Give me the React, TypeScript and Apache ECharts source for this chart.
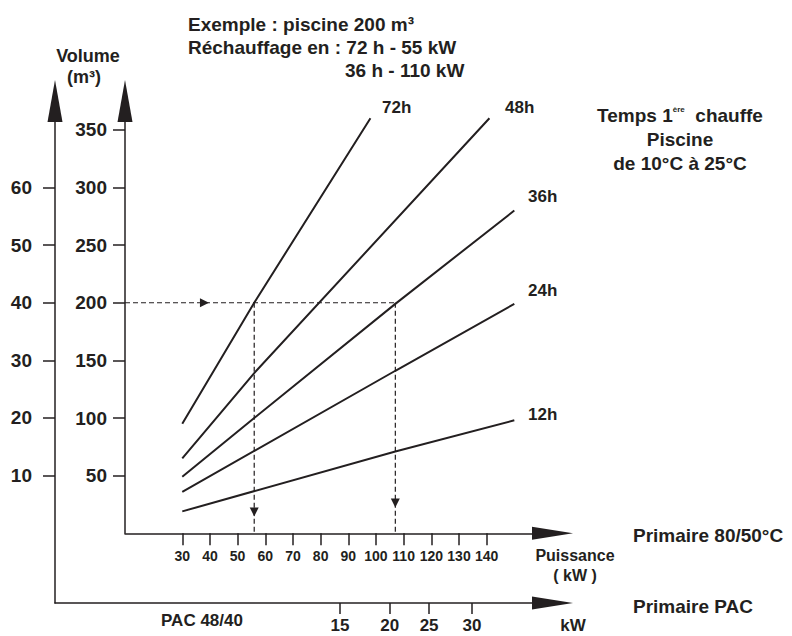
import React, { useEffect, useRef } from "react";
import * as echarts from "echarts";

const INK = "#231f20";
const FONT = "'Liberation Sans', Arial, Helvetica, sans-serif";

// ---- data ----
const seriesNames = ["72h", "48h", "36h", "24h", "12h"];
const line72h = [[30, 95], [56, 200], [98, 360]];
const line48h = [[30, 65], [56, 139], [141, 360]];
const line36h = [[30, 49], [56, 100], [107, 199], [150, 280]];
const line24h = [[30, 36], [107, 141], [150, 199]];
const line12h = [[30, 19], [107, 71], [150, 98]];

const primaryTicks = [30, 40, 50, 60, 70, 80, 90, 100, 110, 120, 130, 140];
const volumeTicks = [50, 100, 150, 200, 250, 300, 350];
const outerVolumeTicks = [10, 20, 30, 40, 50, 60];
const pacTicks = [15, 20, 25, 30];
const pacTickPos = [87, 105, 119.2, 134.7]; // equivalent position on the primaire kW scale

const exampleHorizontal = [[9.3, 200], [107, 200]];
const exampleVertical72 = [[56, 200], [56, 0]];
const exampleVertical36 = [[107, 200], [107, 0]];
const arrowRight = [[38, 200]];
const arrowDown = [[56, 18.5], [107, 26.3]];

// axis ranges
const X_MIN = 9.3;
const X_MAX = 163.8;
const Y_MAX = 375;
const OUTER_X_MIN = -16;
const OUTER_Y_MIN = -12.1;
const OUTER_Y_MAX = 75;

const seriesData = [line72h, line48h, line36h, line24h, line12h];

const txt = (
  text: string,
  x: number,
  y: number,
  size: number,
  align: string = "left",
  extra: any = {}
) => ({
  type: "text",
  x,
  y,
  silent: true,
  style: {
    text,
    fill: INK,
    fontSize: size,
    fontWeight: "bold",
    fontFamily: FONT,
    align,
    verticalAlign: "middle",
    textAlign: align,
    textVerticalAlign: "middle",
    ...extra,
  },
});

const axisLineStyle = { color: INK, width: 1.5 };

export default function App() {
  const ref = useRef<HTMLDivElement>(null);

  useEffect(() => {
    document.body.style.margin = "0";
    const chart = echarts.init(ref.current!, null, { renderer: "svg" });

    const labelBase = {
      color: INK,
      fontWeight: "bold",
      fontFamily: FONT,
    };

    const option: any = {
      animation: false,
      backgroundColor: "#ffffff",
      grid: [
        { left: 125, right: 239.5, top: 101, bottom: 102.7, outerBoundsMode: "none" },
        { left: 55, right: 239.5, top: 101, bottom: 33, outerBoundsMode: "none" },
      ],
      xAxis: [
        {
          gridIndex: 0,
          type: "value",
          min: X_MIN,
          max: X_MAX,
          axisLine: {
            show: true,
            onZero: false,
            lineStyle: axisLineStyle,
            symbol: ["none", "triangle"],
            symbolSize: [13, 41],
          },
          axisTick: {
            show: true,
            length: 12,
            lineStyle: axisLineStyle,
            customValues: primaryTicks,
          },
          axisLabel: {
            ...labelBase,
            customValues: primaryTicks,
            fontSize: 14,
            margin: 16,
          },
          splitLine: { show: false },
        },
        {
          gridIndex: 1,
          type: "value",
          min: OUTER_X_MIN,
          max: X_MAX,
          axisLine: {
            show: true,
            onZero: false,
            lineStyle: axisLineStyle,
            symbol: ["none", "triangle"],
            symbolSize: [13, 41],
          },
          axisTick: {
            show: true,
            length: 11,
            lineStyle: axisLineStyle,
            customValues: pacTickPos,
          },
          axisLabel: {
            ...labelBase,
            customValues: pacTickPos,
            fontSize: 17,
            margin: 14,
            formatter: (v: number) => {
              const i = pacTickPos.findIndex((p) => Math.abs(p - v) < 0.01);
              return i >= 0 ? String(pacTicks[i]) : "";
            },
          },
          splitLine: { show: false },
        },
      ],
      yAxis: [
        {
          gridIndex: 0,
          type: "value",
          min: 0,
          max: Y_MAX,
          axisLine: {
            show: true,
            onZero: false,
            lineStyle: axisLineStyle,
            symbol: ["none", "triangle"],
            symbolSize: [15, 42],
          },
          axisTick: {
            show: true,
            length: 12,
            lineStyle: axisLineStyle,
            customValues: volumeTicks,
          },
          axisLabel: {
            ...labelBase,
            customValues: volumeTicks,
            fontSize: 19,
            margin: 18,
          },
          splitLine: { show: false },
        },
        {
          gridIndex: 1,
          type: "value",
          min: OUTER_Y_MIN,
          max: OUTER_Y_MAX,
          axisLine: {
            show: true,
            onZero: false,
            lineStyle: axisLineStyle,
            symbol: ["none", "triangle"],
            symbolSize: [15, 42],
          },
          axisTick: {
            show: true,
            length: 12,
            lineStyle: axisLineStyle,
            customValues: outerVolumeTicks,
          },
          axisLabel: {
            ...labelBase,
            customValues: outerVolumeTicks,
            fontSize: 19,
            margin: 23,
          },
          splitLine: { show: false },
        },
      ],
      series: [
        ...seriesData.map((d, i) => ({
          name: seriesNames[i],
          type: "line",
          xAxisIndex: 0,
          yAxisIndex: 0,
          data: d,
          symbol: "none",
          silent: true,
          lineStyle: { color: INK, width: 2 },
          z: 3,
        })),
        ...[exampleHorizontal, exampleVertical72, exampleVertical36].map((d) => ({
          type: "line",
          xAxisIndex: 0,
          yAxisIndex: 0,
          data: d,
          symbol: "none",
          silent: true,
          lineStyle: { color: INK, width: 1.2, type: [5, 3] },
          z: 2,
        })),
        {
          type: "scatter",
          xAxisIndex: 0,
          yAxisIndex: 0,
          data: arrowRight,
          symbol: "triangle",
          symbolSize: [9, 9],
          symbolRotate: -90,
          silent: true,
          itemStyle: { color: INK, opacity: 1 },
          z: 4,
        },
        {
          type: "scatter",
          xAxisIndex: 0,
          yAxisIndex: 0,
          data: arrowDown,
          symbol: "triangle",
          symbolSize: [9, 9],
          symbolRotate: 180,
          silent: true,
          itemStyle: { color: INK, opacity: 1 },
          z: 4,
        },
      ],
      graphic: [
        txt("Exemple : piscine 200 m³", 188, 24, 19),
        txt("Réchauffage en : 72 h - 55 kW", 188, 47, 19),
        txt("36 h - 110 kW", 345, 70, 19),
        txt("Volume", 88, 56, 18, "center"),
        txt("(m³)", 84, 77, 18, "center"),
        txt("72h", 382, 107, 17),
        txt("48h", 505, 107, 17),
        txt("36h", 528, 196, 17),
        txt("24h", 528, 290, 17),
        txt("12h", 528, 414, 17),
        txt("Temps 1{s|ère}  chauffe", 680, 115, 19, "center", {
          rich: {
            s: {
              fontSize: 8,
              fontWeight: "bold",
              fontFamily: FONT,
              fill: INK,
              verticalAlign: "top",
            },
          },
        }),
        txt("Piscine", 680, 139, 19, "center"),
        txt("de 10°C à 25°C", 680, 163, 19, "center"),
        txt("Primaire 80/50°C", 633, 535, 19),
        txt("Primaire PAC", 633, 606, 19),
        txt("Puissance", 575, 555, 16, "center"),
        txt("( kW )", 575, 575, 16, "center"),
        txt("kW", 573, 625, 17, "center"),
        txt("PAC 48/40", 202, 620, 17, "center"),
      ],
    };

    chart.setOption(option);
    return () => chart.dispose();
  }, []);

  return <div ref={ref} style={{ width: 792, height: 636 }} />;
}
